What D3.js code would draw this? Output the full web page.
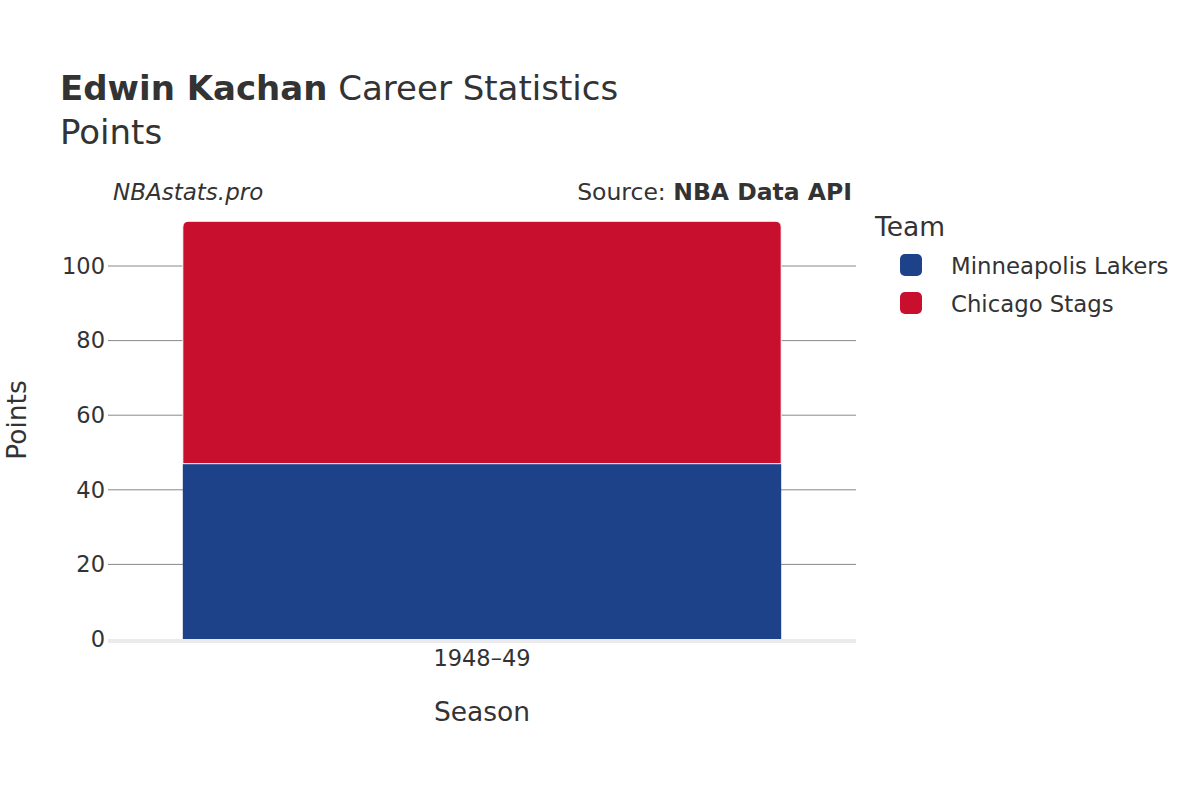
<!DOCTYPE html>
<html><head><meta charset="utf-8">
<script src="https://cdn.jsdelivr.net/npm/d3@7"></script>
<style>body{margin:0;background:#fff}text{font-family:"DejaVu Sans",sans-serif;fill:#333}</style>
</head><body><svg width="1200" height="800"></svg>
<script>
const seasons = ["1948–49"];
const teams = ["Minneapolis Lakers", "Chicago Stags"];
const colors = ["#1d428a", "#c8102e"];
const lakers = [47];
const stags = [65];
const yTicks = [0, 20, 40, 60, 80, 100];

const svg = d3.select("svg");
const L = 108, R = 856, B = 639;
const x = d3.scaleBand().domain(seasons).range([L, R]).paddingInner(0.2).paddingOuter(0.1);
const y = d3.scaleLinear().domain([0, 100]).range([B, 266]);

svg.append("g").selectAll("line").data(yTicks.filter(d => d > 0)).join("line")
  .attr("x1", L).attr("x2", R).attr("y1", d => y(d)).attr("y2", d => y(d))
  .attr("stroke", "#888").attr("stroke-width", 1);
svg.append("line").attr("x1", L).attr("x2", R).attr("y1", B + 2).attr("y2", B + 2)
  .attr("stroke", "#ebebeb").attr("stroke-width", 4);

svg.append("g").selectAll("text").data(yTicks).join("text")
  .attr("x", 105).attr("y", d => y(d)).attr("dy", "0.35em").attr("text-anchor", "end")
  .attr("font-size", 22.5).text(d => d);

const stacks = seasons.map((s, i) => ({ s, a: lakers[i], b: stags[i] }));
stacks.forEach(d => {
  svg.append("rect").attr("x", x(d.s)).attr("width", x.bandwidth())
    .attr("y", y(d.a)).attr("height", y(0) - y(d.a)).attr("fill", colors[0]);
  const top = y(d.a + d.b);
  svg.append("path").attr("fill", colors[1]).attr("stroke", "#fff").attr("stroke-width", 1)
    .attr("d", `M${x(d.s)},${y(d.a)} V${top + 6} Q${x(d.s)},${top} ${x(d.s) + 6},${top} H${x(d.s) + x.bandwidth() - 6} Q${x(d.s) + x.bandwidth()},${top} ${x(d.s) + x.bandwidth()},${top + 6} V${y(d.a)} Z`);
});

svg.append("g").selectAll("text").data(seasons).join("text")
  .attr("x", d => x(d) + x.bandwidth() / 2).attr("y", 666).attr("text-anchor", "middle")
  .attr("font-size", 22.5).text(d => d);

svg.append("text").attr("x", 482).attr("y", 721).attr("text-anchor", "middle").attr("font-size", 26.5).text("Season");
svg.append("text").attr("transform", "translate(26,420) rotate(-90)").attr("text-anchor", "middle").attr("font-size", 26.5).text("Points");

const t = svg.append("text").attr("x", 60).attr("y", 100).attr("font-size", 34);
t.append("tspan").attr("font-weight", "bold").text("Edwin Kachan");
t.append("tspan").text(" Career Statistics");
svg.append("text").attr("x", 60).attr("y", 144).attr("font-size", 34).text("Points");

svg.append("text").attr("x", 113).attr("y", 200).attr("font-size", 23).attr("font-style", "italic").text("NBAstats.pro");
const s = svg.append("text").attr("x", 852).attr("y", 200).attr("font-size", 23.5).attr("text-anchor", "end");
s.append("tspan").text("Source: ");
s.append("tspan").attr("font-weight", "bold").text("NBA Data API");

svg.append("text").attr("x", 875).attr("y", 236).attr("font-size", 26.5).text("Team");
const lg = svg.append("g").selectAll("g").data(teams).join("g")
  .attr("transform", (d, i) => `translate(900,${254 + i * 38})`);
lg.append("rect").attr("width", 22).attr("height", 22).attr("rx", 5).attr("fill", (d, i) => colors[i]);
lg.append("text").attr("x", 51).attr("y", 12).attr("dy", "0.35em").attr("font-size", 22.8).text(d => d);
</script></body></html>
